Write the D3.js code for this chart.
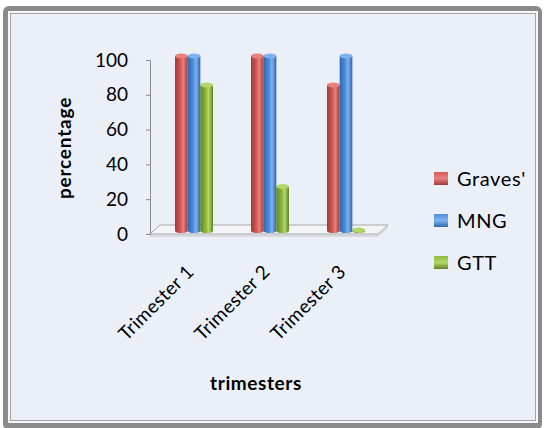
<!DOCTYPE html>
<html>
<head>
<meta charset="utf-8">
<script src="https://cdn.jsdelivr.net/npm/d3@7"></script>
<style>
  body { margin: 0; background: #fff; }
  text { font-family: Lato, 'Open Sans', sans-serif; fill: #000; }
</style>
</head>
<body>
<script>
const width = 544
const height = 428

// data
const categories = ['Trimester 1', 'Trimester 2', 'Trimester 3']
const seriesNames = ["Graves'", 'MNG', 'GTT']
const graves = [100, 100, 83.3]
const mng = [100, 100, 100]
const gtt = [83.3, 25, 0]
const yTicks = [0, 20, 40, 60, 80, 100]

const seriesValues = [graves, mng, gtt]
const colors = [
  { dark: '#9e3a38', mid: '#d65a57', light: '#e8817e' },
  { dark: '#2f67ab', mid: '#4f8fdf', light: '#7fb2f0' },
  { dark: '#5f8424', mid: '#8dba3c', light: '#b3d86a' }
]

let svg = d3.select('body').append('svg')
  .attr('width', width)
  .attr('height', height)

let defs = svg.append('defs')
colors.forEach((c, i) => {
  let g = defs.append('linearGradient')
    .attr('id', 'cyl' + i)
    .attr('x1', 0).attr('x2', 1).attr('y1', 0).attr('y2', 0)
  g.append('stop').attr('offset', '0%').attr('stop-color', c.dark)
  g.append('stop').attr('offset', '45%').attr('stop-color', c.mid)
  g.append('stop').attr('offset', '65%').attr('stop-color', c.light)
  g.append('stop').attr('offset', '100%').attr('stop-color', c.dark)
  let l = defs.append('linearGradient')
    .attr('id', 'leg' + i)
    .attr('x1', 0).attr('x2', 0).attr('y1', 0).attr('y2', 1)
  l.append('stop').attr('offset', '0%').attr('stop-color', c.mid)
  l.append('stop').attr('offset', '50%').attr('stop-color', c.light)
  l.append('stop').attr('offset', '100%').attr('stop-color', c.dark)
})

// frame
svg.append('rect')
  .attr('x', 3).attr('y', 6)
  .attr('width', 539).attr('height', 424)
  .attr('rx', 6)
  .attr('fill', '#8a8a8a')
svg.append('rect')
  .attr('x', 8).attr('y', 11)
  .attr('width', 530).attr('height', 412)
  .attr('fill', '#f6f7fa')
svg.append('rect')
  .attr('x', 10.5).attr('y', 13.5)
  .attr('width', 525).attr('height', 407)
  .attr('fill', '#ebf0f8')
  .attr('stroke', '#a3a3a3')
  .attr('stroke-width', 1)

// scales
const y = d3.scaleLinear().domain([0, 100]).range([234, 60])
const x0 = d3.scaleBand().domain(categories).range([150, 378])
const x1 = d3.scaleBand().domain(seriesNames).range([0, 38])
const depth = 5
const shiftX = 6

// floor
let floor = svg.append('g')
floor.append('path')
  .attr('d', `M150,234 L378,234 L388,${234 - 9} L160,${234 - 9} Z`)
  .attr('fill', '#f2f4f8')
  .attr('stroke', '#a6a6a6')
  .attr('stroke-width', 1)
floor.append('path')
  .attr('d', 'M150,236 L378,236 L388,227')
  .attr('fill', 'none')
  .attr('stroke', '#c4c4c4')
  .attr('stroke-width', 1)

// y axis
let yAxis = svg.append('g')
  .attr('transform', 'translate(150,0)')
  .call(d3.axisLeft(y).tickValues(yTicks).tickSize(4).tickPadding(18))
yAxis.select('.domain').attr('stroke', '#8c8c8c')
yAxis.selectAll('.tick line').attr('stroke', '#8c8c8c')
yAxis.selectAll('.tick text')
  .style('font-size', '19px')
  .style('font-family', 'Lato, sans-serif')
  .attr('fill', '#000')

// bars
let groups = svg.append('g')
  .selectAll('g')
  .data(categories)
  .enter()
  .append('g')
  .attr('transform', (d) => `translate(${x0(d) + x0.bandwidth() / 2 - 19 + shiftX},0)`)

groups.each(function (cat, ci) {
  let g = d3.select(this)
  seriesNames.forEach((s, si) => {
    let v = seriesValues[si][ci]
    let bx = x1(s)
    let bw = x1.bandwidth()
    let top = y(v) - depth + 1
    let bottom = 231
    let cyl = g.append('g')
    cyl.append('rect')
      .attr('x', bx).attr('y', top)
      .attr('width', bw).attr('height', Math.max(0, bottom - top))
      .attr('fill', `url(#cyl${si})`)
    cyl.append('ellipse')
      .attr('cx', bx + bw / 2).attr('cy', bottom)
      .attr('rx', bw / 2).attr('ry', 2)
      .attr('fill', `url(#cyl${si})`)
    cyl.append('ellipse')
      .attr('cx', bx + bw / 2).attr('cy', top)
      .attr('rx', bw / 2).attr('ry', 2.5)
      .attr('fill', colors[si].light)
  })
})

// category labels
svg.append('g')
  .selectAll('text')
  .data(categories)
  .enter()
  .append('text')
  .attr('transform', (d) => `translate(${x0(d) + x0.bandwidth() / 2 + 7},273) rotate(-45)`)
  .attr('text-anchor', 'end')
  .style('font-size', '19px')
  .style('letter-spacing', '0.3px')
  .text((d) => d)

// axis titles
svg.append('text')
  .attr('transform', 'translate(71,148) rotate(-90)')
  .attr('text-anchor', 'middle')
  .style('font-size', '19px')
  .style('font-weight', 'bold')
  .style('letter-spacing', '0.8px')
  .text('percentage')

svg.append('text')
  .attr('x', 256).attr('y', 390)
  .attr('text-anchor', 'middle')
  .style('font-size', '19px')
  .style('font-weight', 'bold')
  .style('letter-spacing', '0.6px')
  .text('trimesters')

// legend
let legend = svg.append('g')
  .selectAll('g')
  .data(seriesNames)
  .enter()
  .append('g')
  .attr('transform', (d, i) => `translate(434,${172 + i * 42})`)

legend.append('rect')
  .attr('width', 14).attr('height', 13)
  .attr('fill', (d, i) => `url(#leg${i})`)

legend.append('text')
  .attr('x', 23).attr('y', 14)
  .style('font-size', '20px')
  .style('letter-spacing', '0.6px')
  .text((d) => d)
</script>
</body>
</html>
